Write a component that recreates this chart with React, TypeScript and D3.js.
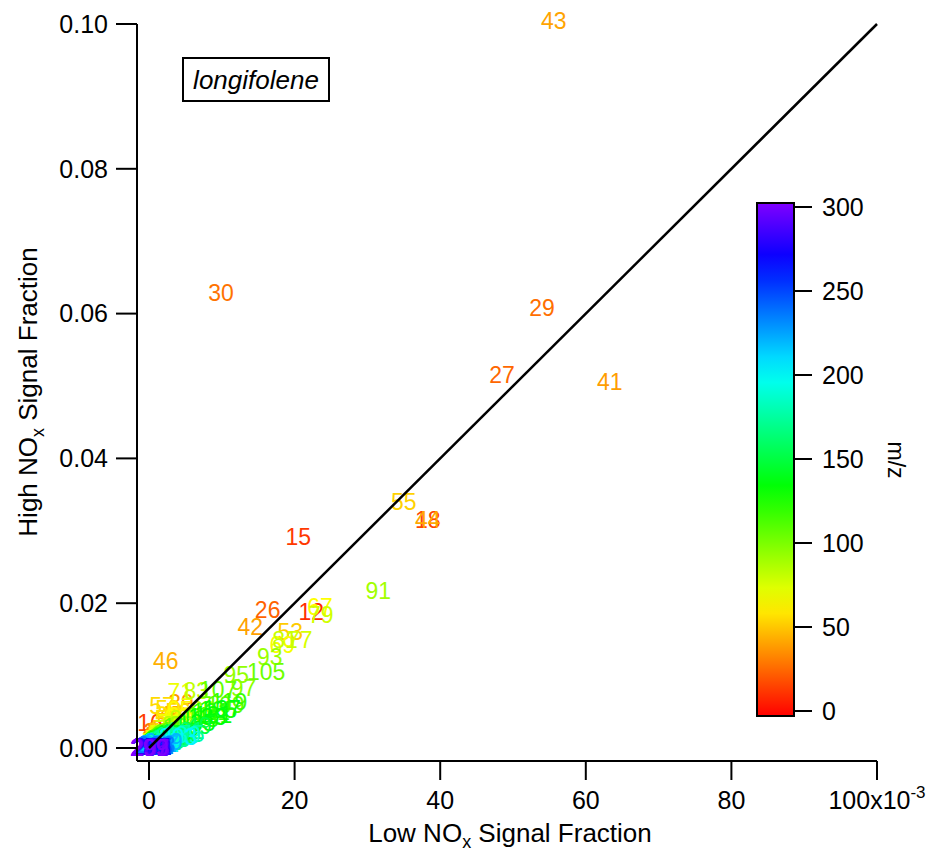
import React from "react";
import * as d3 from "d3";

// m/z labels and their signal fractions (units of 1e-3)
const mzValues = [
  12, 15, 16, 18, 26, 27, 29, 30, 31, 32, 33, 37, 38, 39, 40, 41, 42, 43, 44, 45,
  46, 47, 48, 49, 50, 51, 52, 53, 54, 55, 56, 57, 58, 59, 60, 61, 62, 63, 64, 65,
  66, 67, 68, 69, 70, 71, 72, 73, 74, 75, 76, 77, 78, 79, 80, 81, 82, 83, 84, 85,
  86, 87, 88, 89, 90, 91, 92, 93, 94, 95, 96, 97, 98, 99, 100, 101, 102, 103, 104, 105,
  106, 107, 108, 109, 110, 111, 112, 113, 114, 115, 116, 117, 118, 119, 120, 121, 122, 123, 124, 125,
  126, 127, 128, 129, 130, 131, 132, 133, 134, 135, 136, 137, 138, 139, 140, 141, 142, 143, 145, 147,
  149, 151, 153, 155, 157, 159, 161, 163, 165, 167, 169, 171, 173, 175, 177, 179, 181, 183, 185, 187,
  189, 191, 193, 195, 197, 199, 201, 203, 205, 207, 209, 211, 213, 215, 217, 219, 221, 223, 225, 227,
  229, 231, 233, 235, 237, 239, 241, 243, 245, 247, 249, 251, 253, 255, 257, 259, 261, 263, 265, 267,
  269, 271, 273, 275, 277, 279, 281, 283, 285, 287, 289, 291, 293, 295, 297, 299,
];
const lowNOx = [
  22.3, 20.5, 0.14, 38.3, 16.3, 48.5, 54.0, 9.9, 1.0, 0.8, 0.5, 1.2, 1.5, 4.4, 0.5, 63.3, 13.9, 55.6, 38.3, 3.0,
  2.3, 1.2, 0.5, 0.6, 1.6, 2.8, 1.0, 19.4, 2.0, 35.0, 4.0, 1.8, 2.5, 2.6, 1.5, 1.0, 0.6, 1.2, 0.5, 4.2,
  1.6, 23.5, 3.8, 18.3, 3.0, 4.3, 1.2, 1.8, 0.8, 1.6, 0.9, 20.7, 2.5, 23.6, 2.0, 18.7, 4.5, 6.5, 2.2, 3.5,
  1.4, 1.0, 0.6, 7.5, 2.5, 31.5, 4.5, 16.6, 3.0, 12.0, 3.5, 13.0, 3.0, 2.5, 3.0, 2.8, 2.2, 2.8, 2.0, 16.1,
  3.2, 9.5, 4.5, 10.5, 4.0, 7.5, 2.4, 2.6, 1.4, 3.5, 1.6, 2.8, 1.4, 11.0, 2.0, 8.5, 2.4, 7.0, 2.0, 9.5,
  2.4, 3.5, 2.6, 2.8, 1.6, 8.8, 2.0, 8.0, 3.4, 6.5, 2.6, 10.0, 2.0, 4.0, 1.6, 3.4, 1.4, 2.8, 2.8, 4.2,
  6.0, 3.5, 2.2, 3.5, 2.2, 2.8, 5.0, 2.8, 2.2, 3.5, 2.2, 1.8, 3.0, 5.0, 1.5, 1.8, 1.2, 1.0, 1.5, 2.0,
  4.5, 1.2, 1.5, 1.0, 0.8, 1.0, 1.5, 4.0, 1.2, 0.8, 0.6, 0.5, 0.8, 1.0, 1.5, 2.0, 1.2, 0.8, 0.6, 0.5,
  0.6, 0.8, 1.0, 0.8, 0.5, 0.4, 0.3, 0.5, 0.6, 0.4, 0.3, 0.5, 0.4, 0.3, 0.3, 0.4, 0.5, 0.3, 0.2, 0.3,
  0.2, 0.3, 0.4, 0.2, 0.1, 0.2, 0.3, 0.2, 0.1, 0.2, 0.1, 0.1, 0.2, 0.1, 0.1, 0.0,
];
const highNOx = [
  18.8, 29.1, 3.45, 31.5, 19.1, 51.5, 60.8, 62.8, 2.2, 1.2, 0.6, 1.8, 2.3, 6.2, 0.6, 50.6, 16.7, 100.4, 31.5, 4.5,
  12.0, 2.0, 0.7, 0.8, 2.2, 3.6, 1.2, 16.0, 2.6, 34.0, 5.0, 5.8, 4.0, 5.4, 2.0, 1.3, 0.7, 1.4, 0.5, 5.2,
  1.9, 19.5, 4.2, 14.2, 3.5, 7.7, 1.3, 2.0, 0.8, 1.6, 0.9, 14.9, 2.6, 18.4, 2.0, 14.9, 4.0, 7.9, 2.0, 3.2,
  1.2, 1.0, 0.5, 5.3, 1.8, 21.7, 3.2, 12.6, 2.2, 10.1, 2.4, 8.3, 2.0, 1.7, 2.0, 1.8, 1.4, 1.8, 1.3, 10.5,
  2.1, 8.0, 2.9, 6.0, 2.4, 4.4, 1.4, 1.6, 0.8, 2.0, 0.9, 1.6, 0.8, 6.4, 1.2, 5.0, 1.3, 4.0, 1.1, 5.2,
  1.3, 1.9, 1.4, 1.5, 0.9, 4.6, 1.1, 4.3, 1.8, 3.4, 1.3, 5.4, 1.0, 2.0, 0.8, 1.8, 0.7, 1.4, 1.4, 2.1,
  3.0, 1.7, 1.0, 1.7, 1.0, 1.3, 2.3, 1.3, 1.0, 1.6, 1.0, 0.8, 1.3, 2.0, 0.6, 0.8, 0.5, 0.4, 0.6, 0.8,
  1.8, 0.5, 0.6, 0.4, 0.3, 0.4, 0.6, 1.5, 0.5, 0.3, 0.2, 0.2, 0.3, 0.4, 0.6, 0.8, 0.5, 0.3, 0.2, 0.2,
  0.2, 0.3, 0.4, 0.3, 0.2, 0.1, 0.1, 0.2, 0.2, 0.1, 0.1, 0.2, 0.1, 0.1, 0.1, 0.1, 0.2, 0.1, 0.1, 0.1,
  0.0, 0.1, 0.1, 0.0, 0.0, 0.0, 0.1, 0.0, 0.0, 0.0, 0.0, 0.0, 0.0, 0.0, 0.0, 0.0,
];

const yTickValues = [0, 20, 40, 60, 80, 100];
const yTickLabels = ["0.00", "0.02", "0.04", "0.06", "0.08", "0.10"];
const xTickValues = [0, 20, 40, 60, 80, 100];
const xTickLabels = ["0", "20", "40", "60", "80", "100x10"];
const colorTicks = [0, 50, 100, 150, 200, 250, 300];
const legendText = "longifolene";

const FONT = "'Liberation Sans', Arial, Helvetica, sans-serif";

const colorOf = (mz: number) => d3.hsl(mz * 0.9, 1, 0.5).formatHex();

export default function App() {
  const W = 932;
  const H = 852;
  const x = d3.scaleLinear().domain([0, 100]).range([149, 877]);
  const y = d3.scaleLinear().domain([0, 100]).range([748, 24]);
  const axisX = 137;
  const axisY = 761;
  const c = d3.scaleLinear().domain([0, 300]).range([711, 207]);
  const barX0 = 757;
  const barX1 = 794;
  const barY0 = 203;
  const barY1 = 716;

  const gradStops = d3.range(0, 301, 15);

  const points = mzValues.map((mz, i) => ({ mz, lo: lowNOx[i], hi: highNOx[i] }));

  return (
    <svg
      width={W}
      height={H}
      style={{ position: "absolute", left: 0, top: 0, background: "#fff" }}
      fontFamily={FONT}
    >
      <defs>
        <linearGradient id="rainbow" x1="0" y1="1" x2="0" y2="0">
          {gradStops.map((v) => (
            <stop key={v} offset={`${(v / 300) * 100}%`} stopColor={colorOf(v)} />
          ))}
        </linearGradient>
      </defs>
      <rect x={0} y={0} width={W} height={H} fill="#fff" />

      {/* data labels */}
      <g fontSize={23} textAnchor="middle">
        {points.map((p) => (
          <text key={p.mz} x={x(p.lo)} y={y(p.hi)} dy="0.35em" fill={colorOf(p.mz)}>
            {p.mz}
          </text>
        ))}
      </g>

      {/* 1:1 line */}
      <line x1={x(0)} y1={y(0)} x2={x(100)} y2={y(100)} stroke="#000" strokeWidth={2.5} />

      {/* axes */}
      <line x1={axisX} y1={y(100)} x2={axisX} y2={axisY} stroke="#000" strokeWidth={2} />
      <line x1={axisX} y1={axisY} x2={x(100)} y2={axisY} stroke="#000" strokeWidth={2} />
      {yTickValues.map((v, i) => (
        <g key={"yt" + v}>
          <line x1={axisX - 21} x2={axisX} y1={y(v)} y2={y(v)} stroke="#000" strokeWidth={2} />
          <text x={108} y={y(v)} dy="0.35em" textAnchor="end" fontSize={25}>
            {yTickLabels[i]}
          </text>
        </g>
      ))}
      {xTickValues.map((v, i) => (
        <g key={"xt" + v}>
          <line x1={x(v)} x2={x(v)} y1={axisY} y2={axisY + 19} stroke="#000" strokeWidth={2} />
          <text x={x(v)} y={809} textAnchor="middle" fontSize={25}>
            {xTickLabels[i]}
            {i === xTickLabels.length - 1 ? (
              <tspan dy={-11} fontSize={17}>
                -3
              </tspan>
            ) : null}
          </text>
        </g>
      ))}

      {/* axis titles */}
      <text x={510} y={842} textAnchor="middle" fontSize={26}>
        Low NO
        <tspan dy={6} fontSize={18}>
          x
        </tspan>
        <tspan dy={-6}> Signal Fraction</tspan>
      </text>
      <text transform="translate(37,392) rotate(-90)" textAnchor="middle" fontSize={26}>
        High NO
        <tspan dy={7} fontSize={18}>
          x
        </tspan>
        <tspan dy={-7}> Signal Fraction</tspan>
      </text>

      {/* legend box */}
      <rect x={183} y={58} width={146} height={43} fill="#fff" stroke="#000" strokeWidth={2} />
      <text x={256} y={80} dy="0.35em" textAnchor="middle" fontSize={26} fontStyle="italic">
        {legendText}
      </text>

      {/* color bar */}
      <rect
        x={barX0}
        y={barY0}
        width={barX1 - barX0}
        height={barY1 - barY0}
        fill="url(#rainbow)"
        stroke="#000"
        strokeWidth={2}
      />
      {colorTicks.map((v) => (
        <g key={"ct" + v}>
          <line x1={barX1} x2={barX1 + 18} y1={c(v)} y2={c(v)} stroke="#000" strokeWidth={2} />
          <text x={822} y={c(v)} dy="0.35em" fontSize={25}>
            {v}
          </text>
        </g>
      ))}
      <text transform="translate(888,460) rotate(90)" textAnchor="middle" fontSize={23}>
        m/z
      </text>
    </svg>
  );
}
